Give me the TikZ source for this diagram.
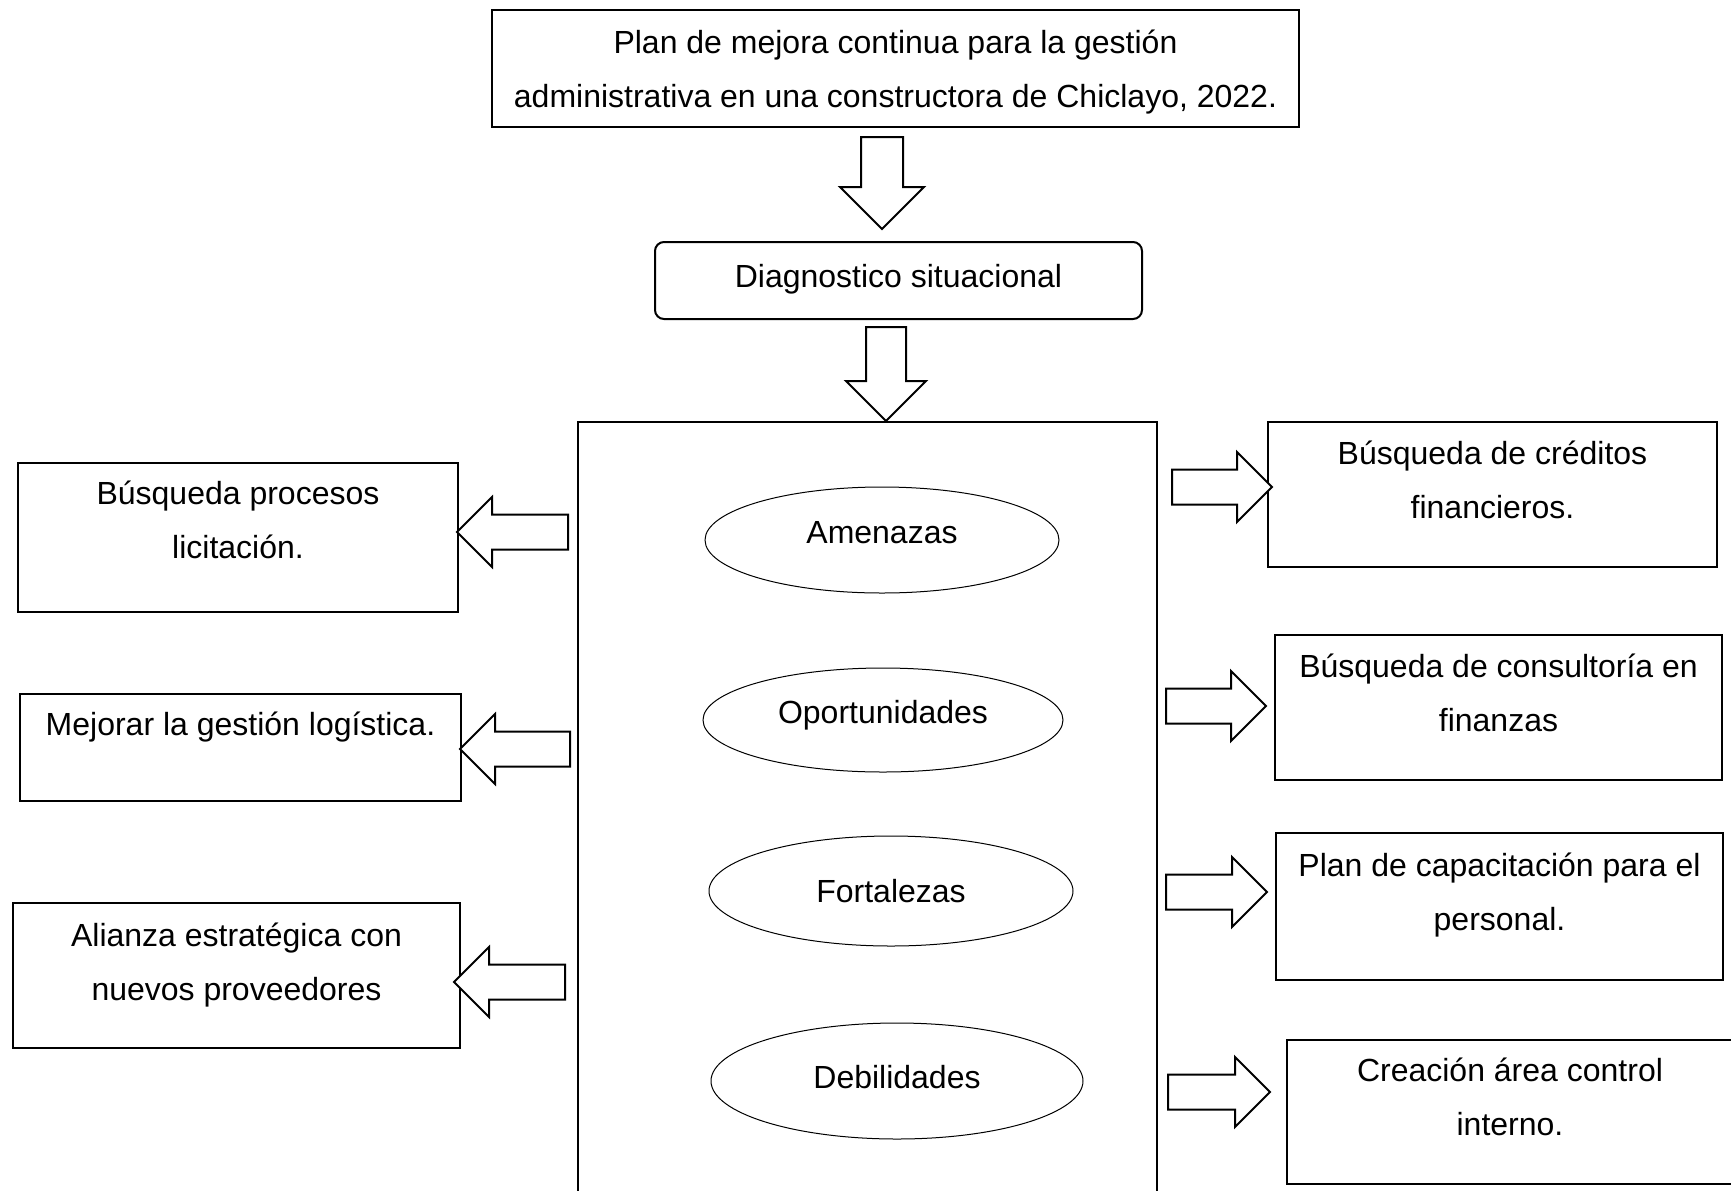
\documentclass[tikz,border=0pt]{standalone}
\usepackage{fontspec}
\setmainfont{Liberation Sans}
\usetikzlibrary{shapes.geometric}

\tikzset{
  txtbox/.style={draw, line width=1pt, align=center, inner sep=0pt, anchor=north west},
  oval/.style={draw, ellipse, line width=0.5pt, inner sep=0pt},
  bigarrow/.style={draw, line width=1pt, line join=miter, fill=white},
}
% block arrow: tip, angle, length, half head width
\newcommand{\blockarrow}[4]{%
  \draw[bigarrow, shift={(#1)}, rotate=#2] (0,0) -- (-#4,#4) -- (-#4,#4/2) -- (-#3,#4/2)
    -- (-#3,-#4/2) -- (-#4,-#4/2) -- (-#4,-#4) -- cycle;}

\begin{document}
\begin{tikzpicture}[x=0.5pt, y=-0.5pt, font=\fontsize{16}{27}\selectfont]
  \useasboundingbox (0,0) rectangle (1731,1190);

  % Title and diagnosis
  \node[txtbox, minimum width=403.5pt, text height=48.5pt, text depth=10pt] (title) at (491,9)
    {Plan de mejora continua para la gestión\\administrativa en una constructora de Chiclayo, 2022.};
  \node[txtbox, rounded corners=4.5pt, minimum width=243.5pt, text height=22.5pt, text depth=16pt] (diag) at (654,241)
    {Diagnostico situacional};

  % SWOT frame
  \node[draw, line width=1pt, anchor=north west, minimum width=289.5pt, minimum height=389.5pt] (swot) at (577,421) {};
  \node[oval, minimum width=177pt, minimum height=53pt, text height=8pt, text depth=5pt] (amen) at (882,540) {Amenazas};
  \node[oval, minimum width=180pt, minimum height=52pt, text height=8pt, text depth=5pt] (opor) at (883,720) {Oportunidades};
  \node[oval, minimum width=182pt, minimum height=55pt] (fort) at (891,891) {Fortalezas};
  \node[oval, minimum width=186pt, minimum height=58pt, text height=10pt, text depth=2.5pt] (debi) at (897,1081) {Debilidades};

  % Left actions
  \node[txtbox, minimum width=220pt, text height=47.5pt, text depth=27pt] (L1) at (17,462)
    {Búsqueda procesos\\licitación.};
  \node[txtbox, minimum width=220.5pt, text height=20.5pt, text depth=33pt] (L2) at (19,693)
    {Mejorar la gestión logística.};
  \node[txtbox, minimum width=223.5pt, text height=48.5pt, text depth=24pt] (L3) at (12,902)
    {Alianza estratégica con\\nuevos proveedores};

  % Right actions
  \node[txtbox, minimum width=224.5pt, text height=48pt, text depth=24.5pt] (R1) at (1267,421)
    {Búsqueda de créditos\\financieros.};
  \node[txtbox, minimum width=223.5pt, text height=48pt, text depth=24.5pt] (R2) at (1274,634)
    {Búsqueda de consultoría en\\finanzas};
  \node[txtbox, minimum width=223.5pt, text height=48.5pt, text depth=25pt] (R3) at (1275,832)
    {Plan de capacitación para el\\personal.};
  \node[txtbox, minimum width=223pt, text height=47.5pt, text depth=24.5pt] (R4) at (1286,1039)
    {Creación área control\\interno.};

  % Arrows
  \coordinate (tipA) at (882,229);
  \blockarrow{tipA}{-90}{92}{42}
  \blockarrow{886,0 |- swot.north}{-90}{94}{40}
  \foreach \xx/\yy/\len in {457/532/111, 460/749/110, 454/982/111}
    \blockarrow{\xx,\yy}{180}{\len}{35};
  \foreach \xx/\yy/\len in {1272/487/100, 1266/706/100, 1267/892/101, 1270/1092/102}
    \blockarrow{\xx,\yy}{0}{\len}{35};
\end{tikzpicture}
\end{document}
